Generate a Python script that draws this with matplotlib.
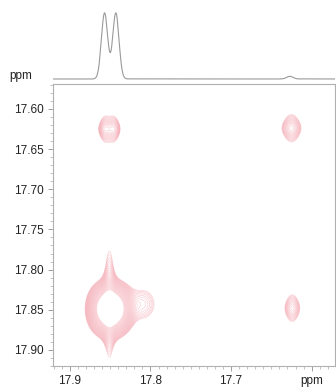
import numpy as np
import matplotlib
matplotlib.use("Agg")
import matplotlib.pyplot as plt
from matplotlib.ticker import MultipleLocator, FixedLocator, FixedFormatter

plt.rcParams['font.family'] = ['Liberation Sans', 'DejaVu Sans']

# Cross-peak list (F2 ppm, F1 ppm, intensity, F2 width, F1 width, F1 shape)
peak_f2 = [17.857, 17.843, 17.851, 17.809, 17.857, 17.845, 17.625, 17.624]
peak_f1 = [17.849, 17.849, 17.843, 17.843, 17.625, 17.625, 17.624, 17.848]
peak_amp = [0.6, 0.6, 0.155, 0.085, 0.135, 0.135, 0.15, 0.125]
peak_wf2 = [0.0108, 0.0108, 0.005, 0.013, 0.0052, 0.0052, 0.008, 0.0068]
peak_wf1 = [0.0159, 0.0159, 0.045, 0.016, 0.011, 0.011, 0.012, 0.0135]
peak_shape_f1 = ["gauss", "gauss", "lorentz", "gauss",
                 "lorentz", "lorentz", "lorentz", "lorentz"]

# 1D projection (F2) lines
proj_ppm = [17.857, 17.843, 17.627]
proj_amp = [1.0, 1.0, 0.04]
proj_w = [0.0039, 0.0039, 0.004]

x_ticks = [17.9, 17.8, 17.7, 17.6]
x_ticklabels = ["17.9", "17.8", "17.7", "ppm"]
y_ticks = [17.60, 17.65, 17.70, 17.75, 17.80, 17.85, 17.90]
y_ticklabels = ["17.60", "17.65", "17.70", "17.75", "17.80", "17.85", "17.90"]

xlim = (17.921, 17.571)
ylim = (17.920, 17.569)

fig = plt.figure(figsize=(3.36, 3.92), dpi=100)
W, H = 336, 392
ax = fig.add_axes([53 / W, 1 - 366 / H, 282 / W, 282 / H])
ax1d = fig.add_axes([53 / W, 1 - 84 / H, 282 / W, 79 / H])

# 2D surface
f2 = np.linspace(xlim[1], xlim[0], 600)
f1 = np.linspace(ylim[1], ylim[0], 600)
X, Y = np.meshgrid(f2, f1)
Z = np.zeros_like(X)
for px, py, a, wx, wy, sh in zip(peak_f2, peak_f1, peak_amp, peak_wf2,
                                  peak_wf1, peak_shape_f1):
    gx = np.exp(-0.5 * ((X - px) / wx) ** 2)
    if sh == "gauss":
        gy = np.exp(-0.5 * ((Y - py) / wy) ** 2)
    else:
        gy = 1 / (1 + ((Y - py) / wy) ** 2)
    Z += a * gx * gy

levels = np.geomspace(0.05, 0.45, 26)
ax.contour(X, Y, Z, levels=levels, colors=[(0.95, 0.55, 0.6)],
           linewidths=0.5, alpha=0.4)

ax.set_xlim(*xlim)
ax.set_ylim(*ylim)
for s in ax.spines.values():
    s.set_color('#b0b0b0')
    s.set_linewidth(0.8)
ax.xaxis.set_major_locator(FixedLocator(x_ticks))
ax.xaxis.set_major_formatter(FixedFormatter(x_ticklabels))
ax.yaxis.set_major_locator(FixedLocator(y_ticks))
ax.yaxis.set_major_formatter(FixedFormatter(y_ticklabels))
ax.xaxis.set_minor_locator(MultipleLocator(0.01))
ax.yaxis.set_minor_locator(MultipleLocator(0.01))
ax.tick_params(which='major', length=3.5, width=0.6, color='#909090',
               labelsize=8.5, labelcolor='#222222', pad=3)
ax.tick_params(which='minor', length=2, width=0.5, color='#a8a8a8')

# 1D trace
xs = np.linspace(xlim[1], xlim[0], 1500)
ys = np.zeros_like(xs)
for c, a, w in zip(proj_ppm, proj_amp, proj_w):
    ys += a * np.exp(-0.5 * ((xs - c) / w) ** 2)
ax1d.plot(xs, ys, color='#9a9a9a', lw=0.8)
ax1d.set_xlim(*xlim)
ax1d.set_ylim(-0.076, 1.12)
ax1d.axis('off')
fig.text(9 / W, 1 - 76 / H, "ppm", fontsize=8.5, color='#222222',
         va='center', ha='left')

fig.savefig("out.png", dpi=100)
